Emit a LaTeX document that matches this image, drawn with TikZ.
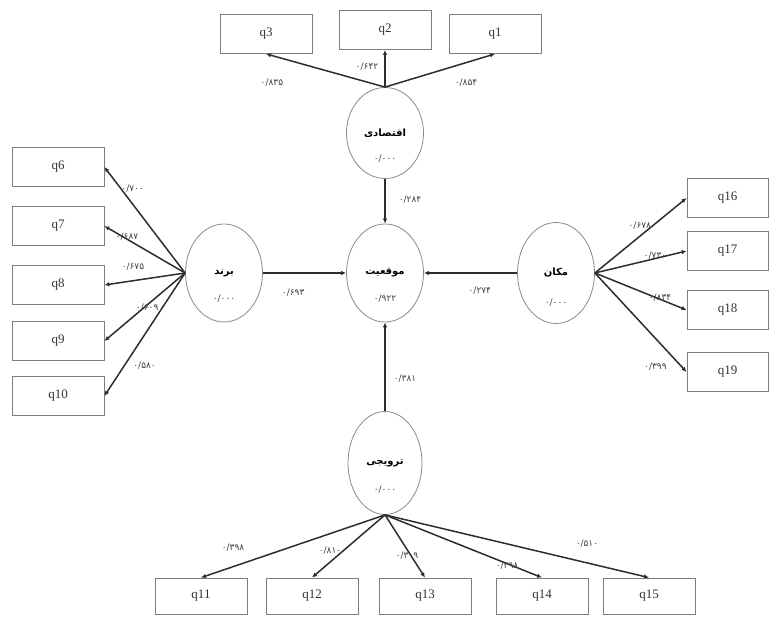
\documentclass[tikz,border=0pt]{standalone}
\usepackage{fontspec}
\setmainfont{Liberation Serif}
\newfontfamily\farsi[Script=Arabic]{DejaVu Sans}
\TeXXeTstate=1
\usetikzlibrary{arrows,arrows.meta,shapes.geometric}
\tikzset{>=latex}
\definecolor{linegray}{RGB}{45,45,45}
\definecolor{boxgray}{RGB}{125,125,125}
\newcommand{\fa}[1]{{\farsi\bfseries\beginR #1\endR}}
\newcommand{\val}[1]{{\farsi #1}}

\begin{document}
\begin{tikzpicture}[x=1pt,y=-1pt,->,>={Latex[length=5pt,width=4.5pt]}]
    \tikzstyle{item}=[draw=boxgray,line width=0.8pt,rectangle,minimum width=92pt,minimum height=39pt,inner sep=0pt,font=\fontsize{13}{15}\selectfont,text=black!80]
    \tikzstyle{factor}=[draw=boxgray!90,line width=0.8pt,ellipse,minimum width=77pt,minimum height=98pt,inner sep=0pt,font=\fontsize{10}{12}\selectfont]
    \tikzstyle{load}=[draw=linegray,line width=1.5pt]
    \tikzstyle{coef}=[font=\fontsize{9}{10}\selectfont,text=black!75,inner sep=0pt]

    \useasboundingbox (0,0) rectangle (770,617);

    % latent factors
    \node[factor,minimum height=91pt,label={[coef,yshift=-26pt]center:\val{۰/۰۰۰}}] (eco)   at (385,133) {\fa{اقتصادی}};
    \node[factor,label={[coef,yshift=-26pt]center:\val{۰/۹۲۲}}]                     (pos)   at (385,273) {\fa{موقعیت}};
    \node[factor,label={[coef,yshift=-26pt]center:\val{۰/۰۰۰}}]                     (brand) at (224,273) {\fa{برند}};
    \node[factor,minimum height=101pt,label={[coef,yshift=-30pt]center:\val{۰/۰۰۰}}] (place) at (556,273) {\fa{مکان}};
    \node[factor,minimum width=74pt,minimum height=103pt,label={[coef,yshift=-27pt]center:\val{۰/۰۰۰}}] (promo) at (385,463) {\fa{ترویجی}};

    % items
    \node[item] (q3) at (266,34) {q3};
    \node[item] (q2) at (385,30) {q2};
    \node[item] (q1) at (495,34) {q1};

    \node[item] (q6)  at (58,167) {q6};
    \node[item] (q7)  at (58,226) {q7};
    \node[item] (q8)  at (58,285) {q8};
    \node[item] (q9)  at (58,341) {q9};
    \node[item] (q10) at (58,396) {q10};

    \node[item,minimum width=81pt] (q16) at (727.5,198) {q16};
    \node[item,minimum width=81pt] (q17) at (727.5,251) {q17};
    \node[item,minimum width=81pt] (q18) at (727.5,310) {q18};
    \node[item,minimum width=81pt] (q19) at (727.5,372) {q19};

    \node[item,minimum height=36pt] (q11) at (201,596) {q11};
    \node[item,minimum height=36pt] (q12) at (312,596) {q12};
    \node[item,minimum height=36pt] (q13) at (425,596) {q13};
    \node[item,minimum height=36pt] (q14) at (542,596) {q14};
    \node[item,minimum height=36pt] (q15) at (649,596) {q15};

    % structural paths
    \path
    (eco.south)  edge[load] node[coef,pos=0.5,xshift=25pt,yshift=2pt]{\val{۰/۲۸۴}}   (pos.north)
    (brand.east) edge[load] node[coef,pos=0.4,xshift=-3pt,yshift=-20pt]{\val{۰/۶۹۳}} (pos.west)
    (place.west) edge[load] node[coef,pos=0.4,yshift=-18pt]{\val{۰/۲۷۴}}            (pos.east)
    (promo.north) edge[load] node[coef,pos=0.37,xshift=20pt]{\val{۰/۳۸۱}}           (pos.south);

    % loadings
    \path
    (eco.north) edge[load] node[coef,pos=0.9,xshift=-6pt,yshift=-25pt]{\val{۰/۸۳۵}} (q3.south)
    (eco.north) edge[load] node[coef,pos=0.5,xshift=-18pt,yshift=2pt]{\val{۰/۶۴۲}}  (q2.south)
    (eco.north) edge[load] node[coef,pos=0.7,xshift=4pt,yshift=-19pt]{\val{۰/۸۵۴}}  (q1.south);

    \path
    (brand.west) edge[load] node[coef,pos=0.7,xshift=4pt,yshift=10pt]{\val{۰/۷۰۰}}  (q6.east)
    (brand.west) edge[load] node[coef,pos=0.72,yshift=3pt]{\val{۰/۶۸۷}}             (q7.east)
    (brand.west) edge[load] node[coef,pos=0.646,yshift=14pt]{\val{۰/۶۷۵}}           (q8.east)
    (brand.west) edge[load] node[coef,pos=0.47,yshift=-3pt]{\val{۰/۶۰۹}}            (q9.east)
    (brand.west) edge[load] node[coef,pos=0.75,xshift=20pt]{\val{۰/۵۸۰}}            (q10.east);

    \path
    (place.east) edge[load] node[coef,pos=0.49,yshift=11pt]{\val{۰/۶۷۸}}            (q16.west)
    (place.east) edge[load] node[coef,pos=0.656,yshift=3pt]{\val{۰/۷۳۰}}            (q17.west)
    (place.east) edge[load] node[coef,pos=0.71,yshift=2pt]{\val{۰/۸۳۴}}             (q18.west)
    (place.east) edge[load] node[coef,pos=0.9,xshift=-22pt,yshift=-5pt]{\val{۰/۳۹۹}} (q19.west);

    \path
    (promo.south) edge[load] node[coef,pos=0.826,yshift=19pt]{\val{۰/۳۹۸}}          (q11.north)
    (promo.south) edge[load] node[coef,pos=0.753,yshift=11pt]{\val{۰/۸۱۰}}          (q12.north)
    (promo.south) edge[load] node[coef,pos=0.65,xshift=-4pt]{\val{۰/۳۰۹}}           (q13.north)
    (promo.south) edge[load] node[coef,pos=0.777,yshift=-2pt]{\val{۰/۳۹۸}}          (q14.north)
    (promo.south) edge[load] node[coef,pos=0.765,yshift=19pt]{\val{۰/۵۱۰}}          (q15.north);

\end{tikzpicture}
\end{document}
